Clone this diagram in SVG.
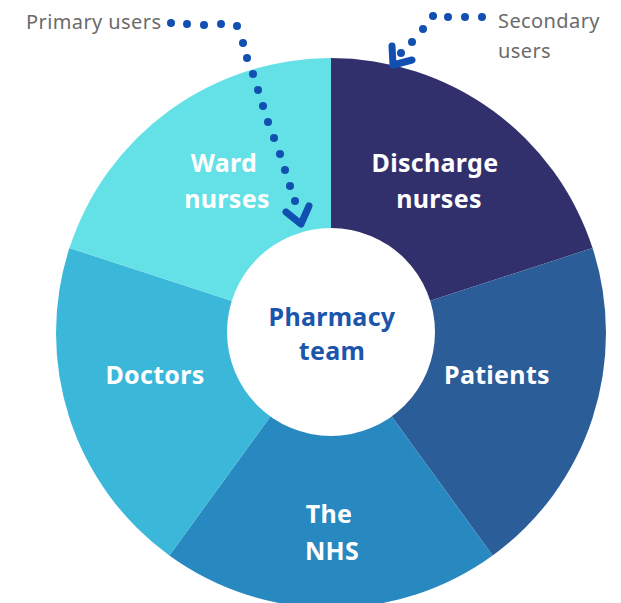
<svg xmlns="http://www.w3.org/2000/svg" width="621" height="603" viewBox="0 0 621 603">
  <style>
    .seg-label { font-family: "Noto Sans", "Open Sans", sans-serif; font-weight: 700; font-size: 25px; fill: #ffffff; text-anchor: middle; letter-spacing: 0.3px; }
    .hub-label { font-family: "Noto Sans", "Open Sans", sans-serif; font-weight: 700; font-size: 25px; fill: #1b55ac; text-anchor: middle; letter-spacing: 0.3px; }
    .note { font-family: "Noto Sans", "Open Sans", sans-serif; font-size: 20px; fill: #6b6b6b; letter-spacing: 0.4px; }
    .dot { fill: #1150b0; }
    .head { fill: none; stroke: #1150b0; stroke-width: 7; stroke-linecap: round; stroke-linejoin: round; }
  </style>
  <rect width="621" height="603" fill="#ffffff"/>

  <!-- ring segments: centre (331,333), radius 275, 72 degrees each -->
  <g id="discharge-nurses">
    <path d="M331,333 L331,58 A275,275 0 0 1 592.54,248.02 Z" fill="#31306d"/>
    <text class="seg-label" x="435" y="172">Discharge</text>
    <text class="seg-label" x="439" y="208">nurses</text>
  </g>
  <g id="patients">
    <path d="M331,333 L592.54,248.02 A275,275 0 0 1 492.64,555.48 Z" fill="#2b5d98"/>
    <text class="seg-label" x="497" y="384">Patients</text>
  </g>
  <g id="the-nhs">
    <path d="M331,333 L492.64,555.48 A275,275 0 0 1 169.36,555.48 Z" fill="#2889c0"/>
    <text class="seg-label" x="329" y="523">The</text>
    <text class="seg-label" x="332" y="560">NHS</text>
  </g>
  <g id="doctors">
    <path d="M331,333 L169.36,555.48 A275,275 0 0 1 69.46,248.02 Z" fill="#3ab7d9"/>
    <text class="seg-label" x="155" y="384">Doctors</text>
  </g>
  <g id="ward-nurses">
    <path d="M331,333 L69.46,248.02 A275,275 0 0 1 331,58 Z" fill="#64e1e7"/>
    <text class="seg-label" x="224" y="172">Ward</text>
    <text class="seg-label" x="227" y="208">nurses</text>
  </g>

  <!-- centre hub -->
  <g id="pharmacy-team">
    <circle cx="331" cy="332" r="104" fill="#ffffff"/>
    <text class="hub-label" x="332" y="326">Pharmacy</text>
    <text class="hub-label" x="332" y="360">team</text>
  </g>

  <!-- annotations -->
  <g id="primary-users">
    <text class="note" x="26" y="29">Primary users</text>
  </g>
  <g id="secondary-users">
    <text class="note" x="498" y="28">Secondary</text>
    <text class="note" x="498" y="58">users</text>
  </g>

  <g id="connectors">
    <!-- dotted pointer to ward nurses -->
    <g id="primary-pointer">
      <circle class="dot" cx="171" cy="23" r="4"/>
      <circle class="dot" cx="187" cy="24" r="4"/>
      <circle class="dot" cx="204" cy="25" r="4"/>
      <circle class="dot" cx="221" cy="24" r="4"/>
      <circle class="dot" cx="237" cy="26" r="4"/>
      <circle class="dot" cx="243" cy="43" r="4"/>
      <circle class="dot" cx="247" cy="58" r="4"/>
      <circle class="dot" cx="253" cy="74" r="4"/>
      <circle class="dot" cx="258" cy="90" r="4"/>
      <circle class="dot" cx="263" cy="106" r="4"/>
      <circle class="dot" cx="268" cy="122" r="4"/>
      <circle class="dot" cx="274" cy="138" r="4"/>
      <circle class="dot" cx="280" cy="154" r="4"/>
      <circle class="dot" cx="285" cy="170" r="4"/>
      <circle class="dot" cx="290" cy="186" r="4"/>
      <circle class="dot" cx="295" cy="201" r="4"/>
      <polyline class="head" points="286,212 301,224 309,206"/>
    </g>
    <!-- dotted pointer to discharge nurses -->
    <g id="secondary-pointer">
      <circle class="dot" cx="482" cy="17" r="4"/>
      <circle class="dot" cx="465" cy="17" r="4"/>
      <circle class="dot" cx="448" cy="17" r="4"/>
      <circle class="dot" cx="433" cy="16" r="4"/>
      <circle class="dot" cx="423" cy="29" r="4"/>
      <circle class="dot" cx="412" cy="42" r="4"/>
      <circle class="dot" cx="401" cy="53" r="4"/>
      <polyline class="head" points="392,46 393,65 412,60"/>
    </g>
  </g>
</svg>
